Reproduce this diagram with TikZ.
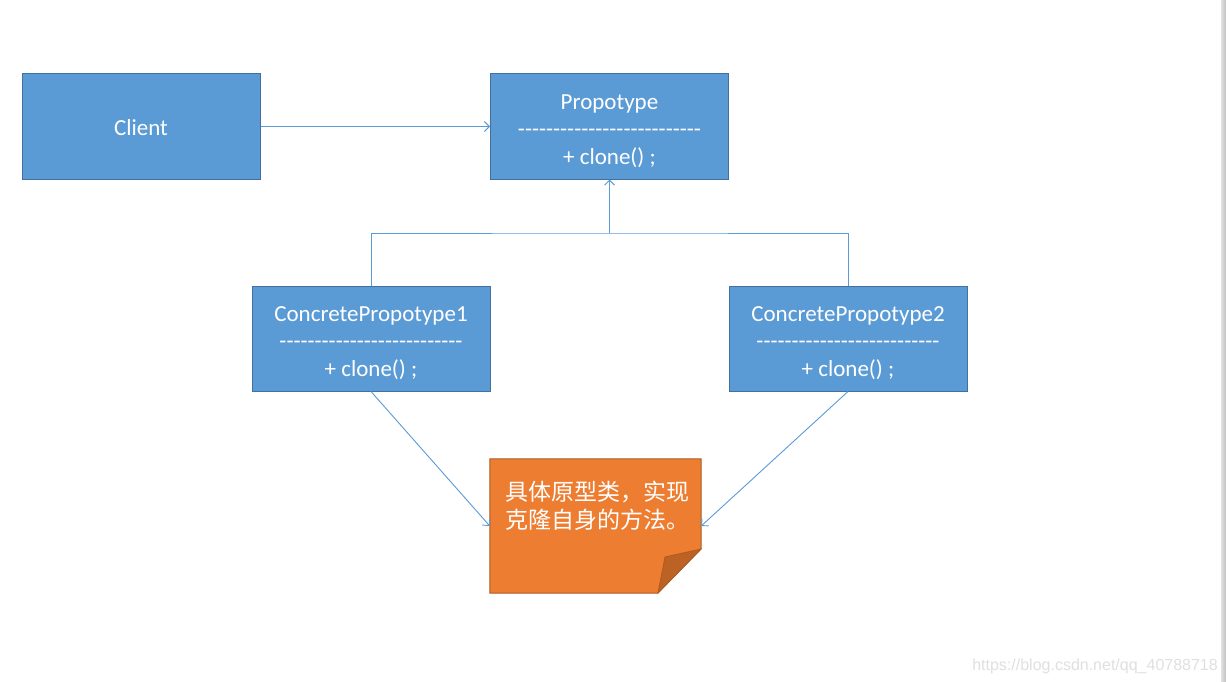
\documentclass[tikz,border=0pt]{standalone}
\usepackage{fontspec}
\setmainfont{Carlito}
\newfontfamily\cjkfont{Noto Sans CJK SC}
\newfontfamily\wmfont{Liberation Sans}
\usetikzlibrary{arrows.meta,calc}
\definecolor{boxfill}{HTML}{5B9BD5}
\definecolor{boxline}{HTML}{41719C}
\definecolor{notefill}{HTML}{ED7D31}
\definecolor{noteline}{HTML}{AE5A21}
\definecolor{notefold}{HTML}{BC6224}
\definecolor{connc}{HTML}{5B9BD5}
\definecolor{wmc}{HTML}{E0E0E0}
\definecolor{barl}{HTML}{E2E2E2}
\definecolor{barr}{HTML}{BEBEBE}
\newcommand{\dashrow}{-{}-{}-{}-{}-{}-{}-{}-{}-{}-{}-{}-{}-{}-{}-{}-{}-{}-{}-{}-{}-{}-{}-{}-{}-{}-{}}
\begin{document}
\begin{tikzpicture}[x=1pt,y=-1pt,
  umlbox/.style={draw=boxline, fill=boxfill, line width=1pt, minimum width=238pt,
    minimum height=105pt, inner sep=0pt},
  umltext/.style={text=white, align=center, inner sep=0pt,
    font=\fontsize{23}{27.5}\selectfont},
  connline/.style={draw=connc, line width=0.9pt},
  arr/.style={connline, -{Straight Barb[length=5pt,width=10pt,line width=0.9pt]}},
  notetext/.style={anchor=base west, inner sep=0pt, text=white, font=\cjkfont\fontsize{23}{28}\selectfont}]
\fill[white] (0,0) rectangle (1226,682);
\useasboundingbox (0,0) rectangle (1226,682);
\shade[left color=barl, right color=barr] (1221,0) rectangle (1226,682);

\node[umlbox, label={[umltext, yshift=-1pt]center:Client}] (client) at (141,126.5) {};
\node[umlbox, label={[umltext, yshift=-4.5pt]center:{Propotype\\\dashrow\\+ clone() ;}}] (proto) at (609.5,126.5) {};
\node[umlbox, label={[umltext, yshift=-4.5pt]center:{ConcretePropotype1\\\dashrow\\+ clone() ;}}] (cp1) at (371,338.5) {};
\node[umlbox, label={[umltext, yshift=-4.5pt]center:{ConcretePropotype2\\\dashrow\\+ clone() ;}}] (cp2) at (848,338.5) {};

% note with folded corner
\node[minimum width=211pt, minimum height=134pt, inner sep=0pt] (note) at (595.5,526) {};
\draw[fill=notefill, draw=noteline, line width=1pt]
  (note.north west) -- (note.north east) -- (701,549) -- (658,593) -- (note.south west) -- cycle;
\draw[fill=notefold, draw=noteline, line width=0.8pt] (701,549) -- (665,557) -- (658,593) -- cycle;
\node[notetext] (n1) at (505,500) {具体原型类，实现};
\node[notetext] (n2) at (505,528) {克隆自身的方法。};

% connectors
\draw[arr] (client.east) -- (proto.west);
\coordinate (j) at (609.5,233);
\draw[connline] (cp1.north) |- (j) -| (cp2.north);
\draw[arr] (j) -- (proto.south);
\draw[arr] (cp1.south) -- (note.west);
\draw[arr] (cp2.south) -- (note.east);

\node[anchor=base east, inner sep=0pt, text=wmc, font=\wmfont\fontsize{16}{18}\selectfont] (wm) at (1218,670) {https://blog.csdn.net/qq\_40788718};
\end{tikzpicture}
\end{document}
